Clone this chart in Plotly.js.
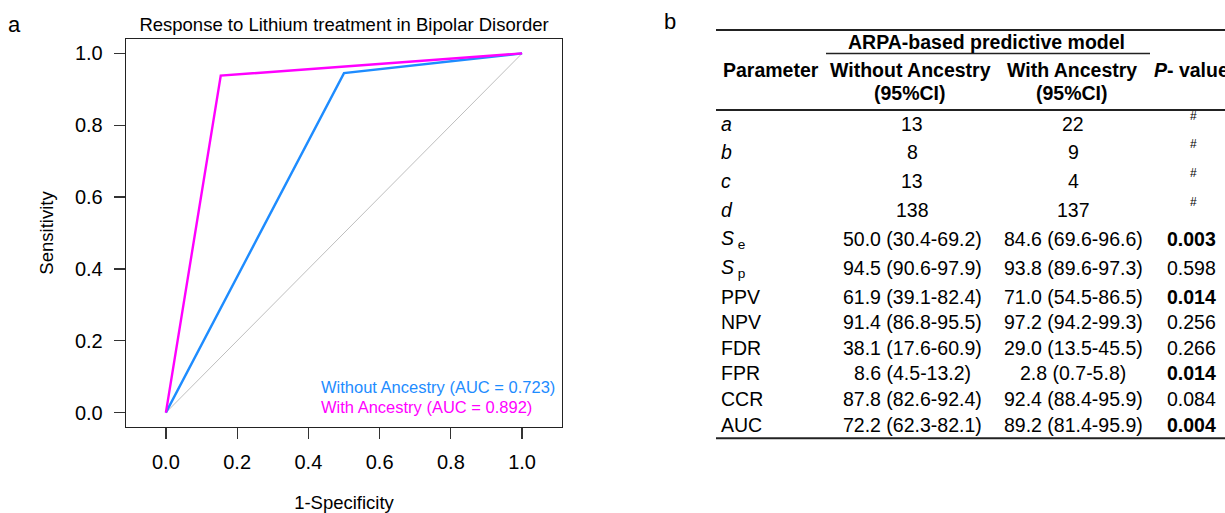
<!DOCTYPE html>
<html>
<head>
<meta charset="utf-8">
<script src="https://cdn.plot.ly/plotly-3.0.1.min.js"></script>
<style>
html,body{margin:0;padding:0;background:#fff;}
#chart{width:1225px;height:513px;}
</style>
</head>
<body>
<div id="chart"></div>
<script>
// ---------- Data: ROC curves ----------
const seriesNames = ['Without Ancestry', 'With Ancestry'];
const aucValues = ['0.723', '0.892'];
const fprWithout = [0, 0.5, 1];
const tprWithout = [0, 0.945, 1];
const fprWith = [0, 0.154, 1];
const tprWith = [0, 0.938, 1];
const diagX = [0, 1];
const diagY = [0, 1];
const axisTicks = [0, 0.2, 0.4, 0.6, 0.8, 1.0];

// ---------- Data: table ----------
const paramLabels = ['<i>a</i>', '<i>b</i>', '<i>c</i>', '<i>d</i>',
  '<i>S</i><sub> e</sub>', '<i>S</i><sub> p</sub>', 'PPV', 'NPV', 'FDR', 'FPR', 'CCR', 'AUC'];
const withoutAncestry = ['13', '8', '13', '138', '50.0 (30.4-69.2)', '94.5 (90.6-97.9)',
  '61.9 (39.1-82.4)', '91.4 (86.8-95.5)', '38.1 (17.6-60.9)', '8.6 (4.5-13.2)',
  '87.8 (82.6-92.4)', '72.2 (62.3-82.1)'];
const withAncestry = ['22', '9', '4', '137', '84.6 (69.6-96.6)', '93.8 (89.6-97.3)',
  '71.0 (54.5-86.5)', '97.2 (94.2-99.3)', '29.0 (13.5-45.5)', '2.8 (0.7-5.8)',
  '92.4 (88.4-95.9)', '89.2 (81.4-95.9)'];
const pValues = ['#', '#', '#', '#', '0.003', '0.598', '0.014', '0.256', '0.266', '0.014', '0.084', '0.004'];

// ---------- Layout geometry (pixels) ----------
const W = 1225, H = 513;
const M = {l: 126, r: 663, t: 39, b: 86.3};
const PW = W - M.l - M.r, PH = H - M.t - M.b;
const fx = px => (px - M.l) / PW;
const fy = py => 1 - (py - M.t) / PH;
const FONT = 'Liberation Sans, Arial, Helvetica, sans-serif';
const blue = '#1E8CFF', magenta = '#FF00FF';
const rowY = [123.5, 152, 181, 209.5, 239, 268, 296.5, 322, 347.5, 373, 399, 424.5];

const traces = [
  {x: diagX, y: diagY, type: 'scatter', mode: 'lines', line: {color: '#BEBEBE', width: 1}, hoverinfo: 'skip'},
  {x: fprWithout, y: tprWithout, type: 'scatter', mode: 'lines', name: seriesNames[0], line: {color: blue, width: 2.4}},
  {x: fprWith, y: tprWith, type: 'scatter', mode: 'lines', name: seriesNames[1], line: {color: magenta, width: 2.4}}
];

const annotations = [];
const shapes = [];
function txt(text, px, py, opts) {
  annotations.push(Object.assign({
    text: text, x: fx(px), y: fy(py), xref: 'paper', yref: 'paper',
    xanchor: 'center', yanchor: 'middle', showarrow: false,
    font: {family: FONT, size: 19.5, color: '#000'}
  }, opts || {}));
}
function hline(x0, x1, py, w) {
  shapes.push({type: 'line', xref: 'paper', yref: 'paper', x0: fx(x0), x1: fx(x1), y0: fy(py), y1: fy(py),
    line: {color: '#222', width: w}});
}

// panel letters
txt('a', 14, 25, {font: {family: FONT, size: 22, color: '#000'}});
txt('b', 670, 22, {font: {family: FONT, size: 22, color: '#000'}});

// ROC legend text
txt(seriesNames[0] + ' (AUC = ' + aucValues[0] + ')', 319, 386.7, {xanchor: 'left', font: {family: FONT, size: 16.5, color: blue}});
txt(seriesNames[1] + ' (AUC = ' + aucValues[1] + ')', 319, 406.7, {xanchor: 'left', font: {family: FONT, size: 16.5, color: magenta}});

// table header
hline(716, 1225, 30, 2);
txt('<b>ARPA-based predictive model</b>', 986, 42);
hline(826, 1150, 53.5, 1.5);
txt('<b>Parameter</b>', 721, 70, {xanchor: 'left'});
txt('<b>Without Ancestry</b>', 910, 70);
txt('<b>(95%CI)</b>', 910, 92.5);
txt('<b>With Ancestry</b>', 1072, 70);
txt('<b>(95%CI)</b>', 1072, 92.5);
txt('<b><i>P</i>- value</b>', 1152, 70, {xanchor: 'left'});
hline(716, 1225, 110, 2);

// table body
for (let i = 0; i < paramLabels.length; i++) {
  const y = rowY[i];
  txt(paramLabels[i], 719, y, {xanchor: 'left'});
  txt(withoutAncestry[i], 912, y);
  txt(withAncestry[i], 1073, y);
  if (pValues[i] === '#') {
    txt('#', 1193, y - 8, {font: {family: FONT, size: 12, color: '#000'}});
  } else {
    const p = parseFloat(pValues[i]);
    txt(p < 0.05 ? '<b>' + pValues[i] + '</b>' : pValues[i], 1191, y);
  }
}
hline(716, 1225, 438, 2);

const axisCommon = {
  showgrid: false, zeroline: false, showline: true, mirror: true,
  linecolor: '#222', linewidth: 1.3,
  ticks: 'outside', ticklen: 11, tickwidth: 1.2, tickcolor: '#333',
  tickvals: axisTicks, tickformat: '.1f',
  tickfont: {family: FONT, size: 20, color: '#000'},
  fixedrange: true
};

const layout = {
  width: W, height: H,
  margin: M,
  paper_bgcolor: '#fff', plot_bgcolor: '#fff',
  showlegend: false,
  font: {family: FONT, color: '#000'},
  title: {text: 'Response to Lithium treatment in Bipolar Disorder',
    font: {family: FONT, size: 18.5, color: '#000'},
    x: 0.5, xref: 'paper', y: 1 - 25 / H, yref: 'container', yanchor: 'middle', xanchor: 'center'},
  xaxis: Object.assign({}, axisCommon, {
    range: [-0.112, 1.112], ticklabelstandoff: 6,
    title: {text: '1-Specificity', font: {family: FONT, size: 18.5, color: '#000'}, standoff: 28}
  }),
  yaxis: Object.assign({}, axisCommon, {
    range: [-0.04, 1.04], ticklabelstandoff: 7,
    title: {text: 'Sensitivity', font: {family: FONT, size: 18.5, color: '#000'}, standoff: 16}
  }),
  annotations: annotations,
  shapes: shapes
};

Plotly.newPlot('chart', traces, layout, {displayModeBar: false, staticPlot: true});
</script>
</body>
</html>
